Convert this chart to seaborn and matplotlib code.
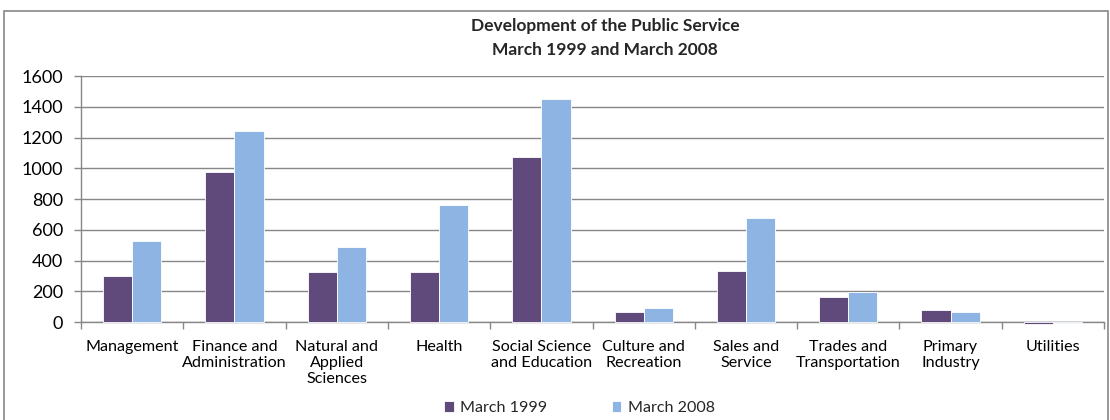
import matplotlib
matplotlib.use("Agg")
import matplotlib.pyplot as plt
from matplotlib.patches import Rectangle
from matplotlib.ticker import FixedLocator
import seaborn as sns
import pandas as pd

categories = ["Management", "Finance and\nAdministration", "Natural and\nApplied\nSciences",
              "Health", "Social Science\nand Education", "Culture and\nRecreation",
              "Sales and\nService", "Trades and\nTransportation", "Primary\nIndustry", "Utilities"]
series_names = ["March 1999", "March 2008"]
values_1999 = [301, 975, 323, 325, 1073, 67, 332, 161, 76, -10]
values_2008 = [527, 1242, 486, 761, 1450, 89, 676, 197, 67, -4]
colors = {"March 1999": "#604A7B", "March 2008": "#8EB4E3"}
y_ticks = [0, 200, 400, 600, 800, 1000, 1200, 1400, 1600]

df = pd.DataFrame({
    "category": categories * 2,
    "period": [series_names[0]] * len(categories) + [series_names[1]] * len(categories),
    "value": values_1999 + values_2008,
})

sns.set_theme(style="white")
plt.rcParams["font.family"] = ["Lato", "DejaVu Sans"]

fig = plt.figure(figsize=(11.1, 4.2), dpi=100)
ax = fig.add_axes([0.073, 0.2333, 0.9216, 0.5857])

sns.barplot(data=df, x="category", y="value", hue="period", order=categories,
            hue_order=series_names, palette=colors, saturation=1, width=0.57, gap=0,
            edgecolor="white", linewidth=0.6, ax=ax, legend=True, errorbar=None)
for p in ax.patches:
    p.set_clip_on(False)
    p.set_zorder(3)

ax.set_ylim(0, 1600)
ax.set_xlim(-0.5, len(categories) - 0.5)
ax.set_yticks(y_ticks)
ax.yaxis.grid(True, color="#878787", linewidth=1)
ax.set_axisbelow(True)
ax.set_xlabel("")
ax.set_ylabel("")

for s in ["top", "right"]:
    ax.spines[s].set_visible(False)
for s in ["left", "bottom"]:
    ax.spines[s].set_color("#878787")
    ax.spines[s].set_linewidth(1)
    ax.spines[s].set_zorder(2.5)

ax.tick_params(axis="y", which="major", length=5, width=1, color="#878787",
               labelsize=13, pad=8, left=True, labelcolor="black")
ax.tick_params(axis="x", which="major", length=0, labelsize=11.6, pad=13, labelcolor="black")
ax.xaxis.set_minor_locator(FixedLocator([i - 0.5 for i in range(len(categories) + 1)]))
ax.tick_params(axis="x", which="minor", length=5, width=1, color="#878787", bottom=True)
for lbl in ax.get_xticklabels():
    lbl.set_verticalalignment("top")
    lbl.set_linespacing(1.2)

fig.text(0.545, 0.937, "Development of the Public Service", ha="center", va="center",
         fontsize=12.5, fontweight="bold")
fig.text(0.545, 0.882, "March 1999 and March 2008", ha="center", va="center",
         fontsize=12.5, fontweight="bold")

handles, labels = ax.get_legend_handles_labels()
ax.legend(handles, labels, loc="center", bbox_to_anchor=(0.522, 0.028),
          bbox_transform=fig.transFigure, ncol=2, frameon=False, fontsize=11.6,
          handlelength=0.6, handleheight=0.6, handletextpad=0.4, columnspacing=4.0)

fig.patches.append(Rectangle((0.004, -0.01), 0.994, 0.985, transform=fig.transFigure,
                             fill=False, edgecolor="#878787", linewidth=1.2))

fig.savefig("out.png", dpi=100)
